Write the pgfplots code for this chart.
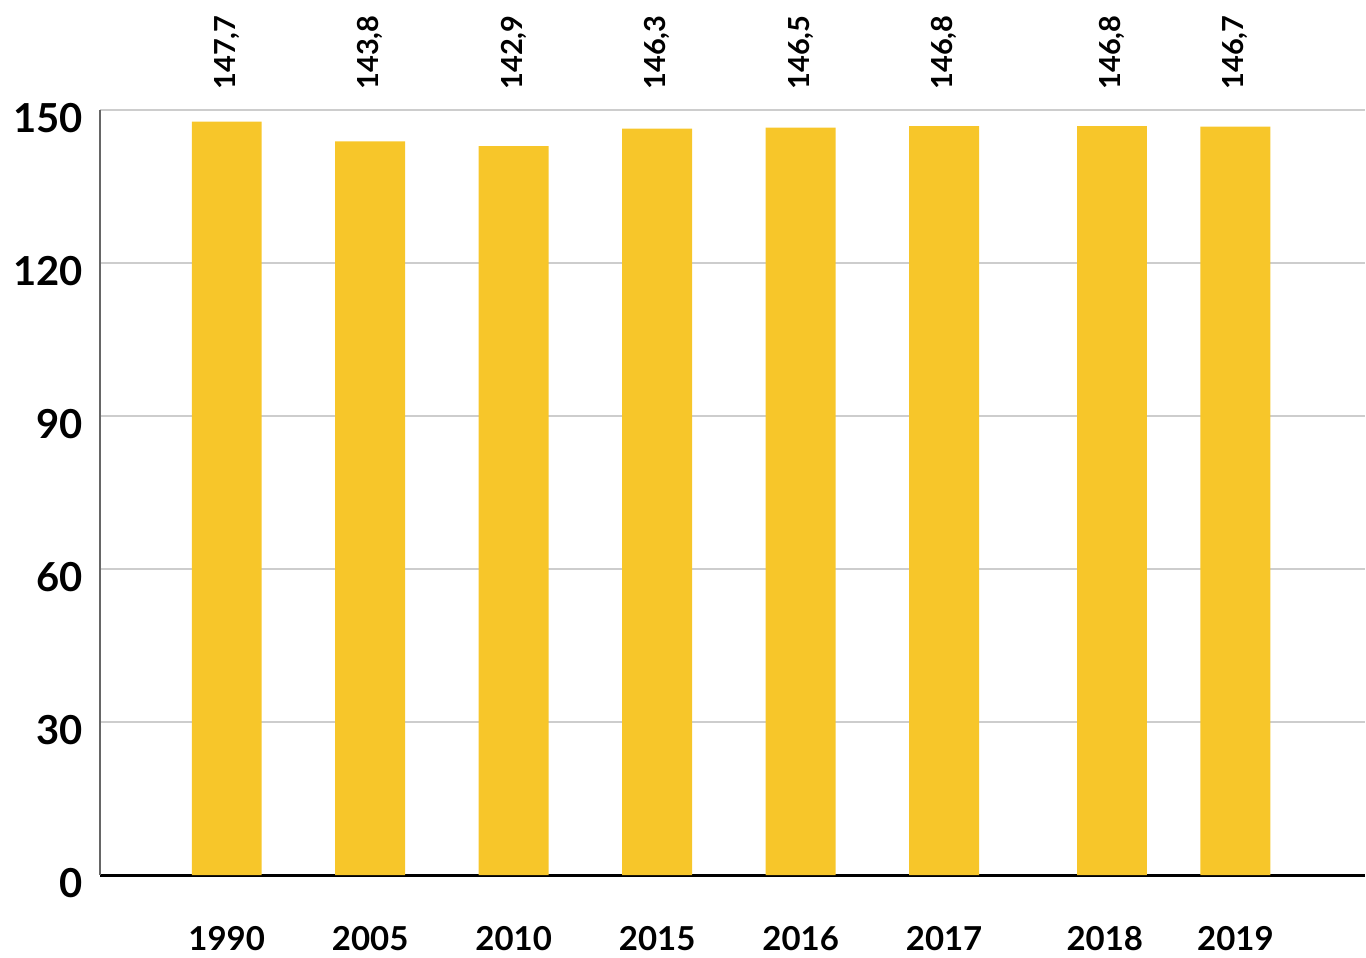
\documentclass[border=0pt]{standalone}
\usepackage{pgfplots}
\pgfplotsset{compat=1.18}
\usepackage{pgfplotstable}
\usepackage{fontspec}
\setmainfont{Lato}
\usetikzlibrary{calc}
\definecolor{baryellow}{RGB}{247,198,42}
\definecolor{gridgray}{RGB}{205,205,205}
\pgfplotstableread{
x y top
0 147.7 150
1 143.8 150
2 142.9 150
3 146.3 150
4 146.5 150
5 146.8 150
6.17 146.8 150
7.03 146.7 150
}\datatable
\begin{document}
\begin{tikzpicture}
\begin{axis}[
  scale only axis,
  width=633pt, height=383pt,
  xmin=-0.884, xmax=7.93,
  ymin=0, ymax=150,
  axis x line=bottom, axis y line=left,
  axis line style={-},
  x axis line style={draw=black, line width=1.5pt},
  y axis line style={draw=black!60, line width=1pt},
  xtick={0,1,2,3,4,5,6.12,7.03},
  xticklabels={1990,2005,2010,2015,2016,2017,2018,2019},
  ytick={0,30,60,90,120,150},
  ymajorgrids,
  major grid style={gridgray, line width=0.9pt},
  tick style={draw=none},
  /pgf/number format/assume math mode=true,
  xticklabel style={font=\fontsize{16.5}{19}\selectfont\bfseries, yshift=-20pt},
  yticklabel style={font=\fontsize{20}{24}\selectfont\bfseries, xshift=-3pt, yshift=-4pt},
  clip=false,
]
\addplot[ybar, bar width=35pt, fill=baryellow, draw=none] table[x=x, y=y] {\datatable};
\addplot[draw=none, mark=none, nodes near coords, point meta=explicit,
  nodes near coords style={rotate=90, anchor=west, inner sep=0pt, xshift=10pt,
    font=\fontsize{14.5}{16}\selectfont\bfseries,
    /pgf/number format/.cd, fixed, fixed zerofill, precision=1, use comma, assume math mode=true}]
  table[x=x, y=top, meta=y] {\datatable};
\end{axis}
\path ($(current axis.south west)+(-50pt,-41pt)$) rectangle ($(current axis.north east)+(0,55pt)$);
\end{tikzpicture}
\end{document}
